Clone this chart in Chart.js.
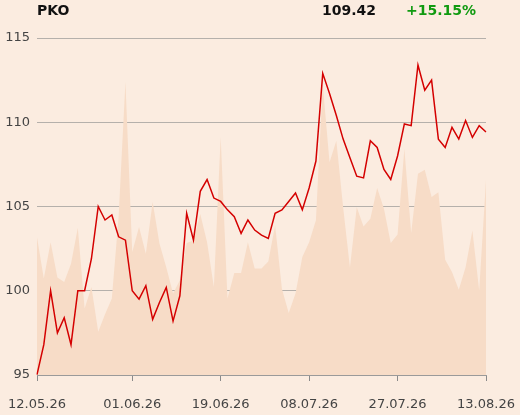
<!DOCTYPE html>
<html>
<head>
<meta charset="utf-8">
<script src="https://cdn.jsdelivr.net/npm/chart.js@4/dist/chart.umd.min.js"></script>
<style>
html,body{margin:0;padding:0;background:#fbece0;}
#wrap{width:520px;height:415px;position:relative;}
</style>
</head>
<body>
<div id="wrap"><canvas id="c" width="520" height="415"></canvas></div>
<script>
const TITLE = 'PKO';
const LAST_PRICE = '109.42';
const CHANGE = '+15.15%';

const DATES = [
  '12.05.26','13.05.26','14.05.26','15.05.26','18.05.26','19.05.26','20.05.26','21.05.26','22.05.26',
  '25.05.26','26.05.26','27.05.26','28.05.26','29.05.26',
  '01.06.26','02.06.26','03.06.26','05.06.26','08.06.26','09.06.26','10.06.26','11.06.26','12.06.26',
  '15.06.26','16.06.26','17.06.26','18.06.26','19.06.26','22.06.26','23.06.26','24.06.26','25.06.26',
  '26.06.26','29.06.26','30.06.26',
  '01.07.26','02.07.26','03.07.26','06.07.26','07.07.26','08.07.26','09.07.26','10.07.26','13.07.26',
  '14.07.26','15.07.26','16.07.26','17.07.26','20.07.26','21.07.26','22.07.26','23.07.26','24.07.26',
  '27.07.26','28.07.26','29.07.26','30.07.26','31.07.26',
  '03.08.26','04.08.26','05.08.26','06.08.26','07.08.26','10.08.26','11.08.26','12.08.26','13.08.26'
];

const SHOWN_TICKS = ['12.05.26','01.06.26','19.06.26','08.07.26','27.07.26','13.08.26'];

const PRICE = [
  95.02, 96.8, 100.0, 97.5, 98.4, 96.8, 100.0, 100.0, 101.9, 105.0,
  104.2, 104.5, 103.2, 103.0, 100.0, 99.5, 100.3, 98.3, 99.3, 100.2,
  98.2, 99.7, 104.6, 103.0, 105.9, 106.6, 105.5, 105.3, 104.8, 104.4,
  103.4, 104.2, 103.6, 103.3, 103.1, 104.6, 104.8, 105.3, 105.8, 104.8,
  106.1, 107.7, 112.9, 111.7, 110.4, 109.0, 107.9, 106.8, 106.7, 108.9,
  108.5, 107.2, 106.6, 108.0, 109.9, 109.8, 113.4, 111.9, 112.5, 109.0,
  108.5, 109.7, 109.0, 110.1, 109.1, 109.8, 109.42
];

const VOLUME = [
  40.9, 28.6, 39.4, 28.9, 27.6, 33.0, 43.7, 19.7, 26.1, 12.8,
  18.0, 22.7, 47.0, 87.0, 36.5, 43.9, 36.0, 51.3, 39.0, 32.0,
  24.2, 28.1, 39.2, 39.9, 47.8, 39.4, 26.1, 70.7, 22.7, 30.3,
  30.3, 39.4, 31.6, 31.6, 33.7, 44.4, 25.6, 18.4, 24.2, 35.0,
  39.4, 45.9, 86.3, 63.1, 69.5, 49.8, 31.9, 49.8, 44.1, 46.4,
  55.5, 49.3, 39.2, 41.7, 67.1, 42.1, 59.7, 60.9, 52.8, 54.2,
  34.2, 30.6, 25.3, 32.0, 42.9, 25.1, 57.9
];

const Y_TICKS = [95, 100, 105, 110, 115];

const headerPlugin = {
  id: 'header',
  afterDraw(chart) {
    const ctx = chart.ctx;
    ctx.save();
    ctx.font = 'bold 14px "DejaVu Sans"';
    ctx.textBaseline = 'alphabetic';
    ctx.textAlign = 'left';
    ctx.fillStyle = '#111';
    ctx.fillText(TITLE, 37, 15);
    ctx.fillText(LAST_PRICE, 322, 15);
    ctx.fillStyle = '#109a10';
    ctx.fillText(CHANGE, 406, 15);
    ctx.restore();
  }
};

const bgPlugin = {
  id: 'bg',
  beforeDraw(chart) {
    const ctx = chart.ctx;
    ctx.save();
    ctx.fillStyle = '#fbece0';
    ctx.fillRect(0, 0, chart.width, chart.height);
    ctx.restore();
  }
};

new Chart(document.getElementById('c'), {
  type: 'line',
  data: {
    labels: DATES,
    datasets: [
      {
        label: 'price',
        data: PRICE,
        yAxisID: 'y',
        borderColor: '#d40000',
        borderWidth: 1.5,
        pointRadius: 0,
        tension: 0,
        fill: false,
        order: 0
      },
      {
        label: 'volume',
        data: VOLUME,
        yAxisID: 'v',
        borderWidth: 0,
        borderColor: 'rgba(0,0,0,0)',
        backgroundColor: '#f7dcc7',
        pointRadius: 0,
        tension: 0,
        fill: 'origin',
        order: 1
      }
    ]
  },
  options: {
    responsive: false,
    animation: false,
    devicePixelRatio: 1,
    layout: { padding: { top: 38, right: 34, left: 0, bottom: 0 } },
    plugins: { legend: { display: false }, tooltip: { enabled: false } },
    scales: {
      x: {
        type: 'category',
        offset: false,
        afterFit(scale) {
          scale.height = 40;
          scale.paddingLeft = 0;
          scale.paddingRight = 0;
        },
        border: { display: true, color: '#9a9a9a', width: 1 },
        grid: {
          drawOnChartArea: false,
          drawTicks: true,
          tickLength: 6,
          color: (c) => (SHOWN_TICKS.includes(DATES[c.index]) ? '#8a8a8a' : 'rgba(0,0,0,0)')
        },
        ticks: {
          autoSkip: false,
          maxRotation: 0,
          minRotation: 0,
          padding: 16,
          color: '#444',
          font: { family: 'DejaVu Sans', size: 13 },
          callback: function(val, idx) {
            const l = DATES[idx];
            return SHOWN_TICKS.includes(l) ? l : '';
          }
        }
      },
      y: {
        position: 'left',
        min: 95,
        max: 115,
        afterFit(scale) {
          scale.width = 37;
          scale.paddingTop = 0;
          scale.paddingBottom = 0;
        },
        afterBuildTicks(scale) { scale.ticks = Y_TICKS.map(v => ({ value: v })); },
        border: { display: false },
        grid: { color: '#b5b0ab', lineWidth: 1, drawTicks: false },
        ticks: {
          padding: 7,
          color: '#444',
          font: { family: 'DejaVu Sans', size: 13 }
        }
      },
      v: {
        display: false,
        min: 0,
        max: 100
      }
    }
  },
  plugins: [bgPlugin, headerPlugin]
});
</script>
</body>
</html>
